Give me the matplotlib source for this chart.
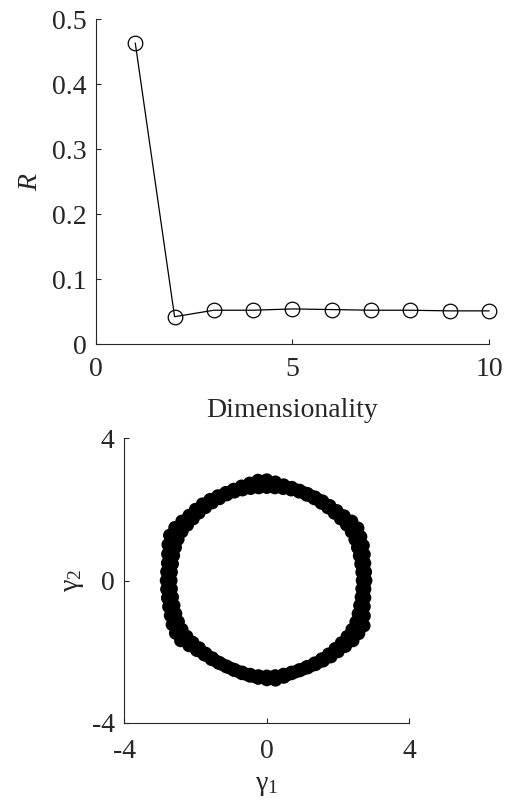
import numpy as np
import matplotlib
matplotlib.use("Agg")
import matplotlib.pyplot as plt

plt.rcParams['font.family'] = ['Liberation Serif', 'DejaVu Serif']
plt.rcParams['mathtext.fontset'] = 'custom'
plt.rcParams['mathtext.rm'] = 'Liberation Serif'
plt.rcParams['mathtext.it'] = 'Liberation Serif:italic'
plt.rcParams['axes.unicode_minus'] = False

# R against embedding dimension
dims = [1, 2, 3, 4, 5, 6, 7, 8, 9, 10]
R = [0.463, 0.042, 0.052, 0.052, 0.054, 0.053, 0.052, 0.052, 0.051, 0.051]

# 2-D embedding: points on the ring, given as angle (deg) and radius
angle_deg = [0, 5, 10, 15, 20, 25, 30, 35, 40, 45, 50, 55,
             60, 65, 70, 75, 80, 85, 90, 95, 100, 105, 110, 115,
             120, 125, 130, 135, 140, 145, 150, 155, 160, 165, 170, 175,
             180, 185, 190, 195, 200, 205, 210, 215, 220, 225, 230, 235,
             240, 245, 250, 255, 260, 265, 270, 275, 280, 285, 290, 295,
             300, 305, 310, 315, 320, 325, 330, 335, 340, 345, 350, 355]
r_outer = [2.78, 2.78, 2.79, 2.83, 2.88, 2.91, 2.95, 2.91, 2.83, 2.78, 2.75, 2.73,
           2.71, 2.70, 2.70, 2.71, 2.73, 2.78, 2.83, 2.83, 2.78, 2.75, 2.73, 2.73,
           2.75, 2.78, 2.81, 2.83, 2.85, 2.91, 2.98, 3.01, 2.95, 2.88, 2.83, 2.82,
           2.82, 2.82, 2.83, 2.85, 2.88, 2.93, 2.96, 2.95, 2.85, 2.78, 2.73, 2.71,
           2.69, 2.68, 2.69, 2.71, 2.73, 2.76, 2.79, 2.81, 2.76, 2.71, 2.70, 2.71,
           2.73, 2.76, 2.80, 2.83, 2.88, 2.95, 2.98, 3.01, 2.91, 2.83, 2.79, 2.76]
r_inner = [2.68, 2.68, 2.68, 2.69, 2.71, 2.73, 2.74, 2.73, 2.70, 2.68, 2.67, 2.66,
           2.66, 2.65, 2.65, 2.64, 2.63, 2.62, 2.62, 2.62, 2.63, 2.64, 2.65, 2.66,
           2.66, 2.67, 2.68, 2.69, 2.70, 2.72, 2.75, 2.75, 2.73, 2.71, 2.69, 2.69,
           2.69, 2.69, 2.69, 2.70, 2.72, 2.74, 2.75, 2.74, 2.71, 2.68, 2.67, 2.66,
           2.66, 2.66, 2.66, 2.67, 2.68, 2.69, 2.69, 2.69, 2.68, 2.67, 2.67, 2.67,
           2.68, 2.69, 2.70, 2.71, 2.73, 2.75, 2.76, 2.76, 2.73, 2.70, 2.69, 2.68]
angle_mid = [2.5, 7.5, 12.5, 17.5, 22.5, 27.5, 32.5, 37.5, 42.5, 47.5, 52.5, 57.5,
             62.5, 67.5, 72.5, 77.5, 82.5, 87.5, 92.5, 97.5, 102.5, 107.5, 112.5, 117.5,
             122.5, 127.5, 132.5, 137.5, 142.5, 147.5, 152.5, 157.5, 162.5, 167.5, 172.5, 177.5,
             182.5, 187.5, 192.5, 197.5, 202.5, 207.5, 212.5, 217.5, 222.5, 227.5, 232.5, 237.5,
             242.5, 247.5, 252.5, 257.5, 262.5, 267.5, 272.5, 277.5, 282.5, 287.5, 292.5, 297.5,
             302.5, 307.5, 312.5, 317.5, 322.5, 327.5, 332.5, 337.5, 342.5, 347.5, 352.5, 357.5]
r_mid = [2.73, 2.73, 2.75, 2.78, 2.81, 2.83, 2.83, 2.79, 2.75, 2.72, 2.70, 2.69,
         2.68, 2.68, 2.68, 2.68, 2.69, 2.71, 2.73, 2.72, 2.70, 2.69, 2.69, 2.70,
         2.72, 2.74, 2.75, 2.77, 2.80, 2.84, 2.87, 2.86, 2.82, 2.78, 2.76, 2.76,
         2.76, 2.76, 2.77, 2.79, 2.82, 2.85, 2.85, 2.81, 2.76, 2.72, 2.69, 2.68,
         2.67, 2.67, 2.68, 2.70, 2.72, 2.73, 2.75, 2.74, 2.71, 2.69, 2.69, 2.70,
         2.72, 2.74, 2.76, 2.79, 2.83, 2.86, 2.88, 2.85, 2.79, 2.75, 2.73, 2.73]

axis_color = '#262626'

fig = plt.figure(figsize=(5.09, 8.0), dpi=100)
ax1 = fig.add_axes([0.1886, 0.570, 0.772, 0.406])
ax2 = fig.add_axes([0.2442, 0.0966, 0.560, 0.3555])

# top panel
ax1.plot(dims, R, '-', color='black', lw=0.9, marker='o', markersize=10.5,
         markerfacecolor='none', markeredgecolor='black', markeredgewidth=0.9,
         clip_on=False)
ax1.set_xlim(0, 10)
ax1.set_ylim(0, 0.5)
ax1.set_xticks([0, 5, 10])
ax1.set_yticks([0, 0.1, 0.2, 0.3, 0.4, 0.5])
ax1.set_yticklabels(['0', '0.1', '0.2', '0.3', '0.4', '0.5'])
ax1.set_xlabel('Dimensionality', fontsize=20, color=axis_color, labelpad=12)
ax1.set_ylabel('$\\mathit{R}$', fontsize=20, color=axis_color, labelpad=6)

# bottom panel
for ang, rr in ((angle_deg, r_inner), (angle_mid, r_mid), (angle_deg, r_outer)):
    th = np.deg2rad(ang)
    rr = np.asarray(rr)
    ax2.scatter(rr * np.cos(th), rr * np.sin(th), s=90, c='black',
                edgecolors='none')
ax2.set_xlim(-4, 4)
ax2.set_ylim(-4, 4)
ax2.set_xticks([-4, 0, 4])
ax2.set_yticks([-4, 0, 4])
ax2.set_xlabel('$\\mathrm{γ}_1$', fontsize=20, color=axis_color, labelpad=6)
ax2.set_ylabel('$\\mathrm{γ}_2$', fontsize=20, color=axis_color, labelpad=4)

for ax in (ax1, ax2):
    for side in ('top', 'right'):
        ax.spines[side].set_visible(False)
    for side in ('left', 'bottom'):
        ax.spines[side].set_color(axis_color)
        ax.spines[side].set_linewidth(0.8)
    ax.tick_params(direction='in', length=3.5, width=0.8, colors=axis_color,
                   labelsize=20, pad=7)
ax1.tick_params(axis='x', pad=9)
ax2.tick_params(axis='x', pad=12)

fig.savefig('out.png', dpi=100)
